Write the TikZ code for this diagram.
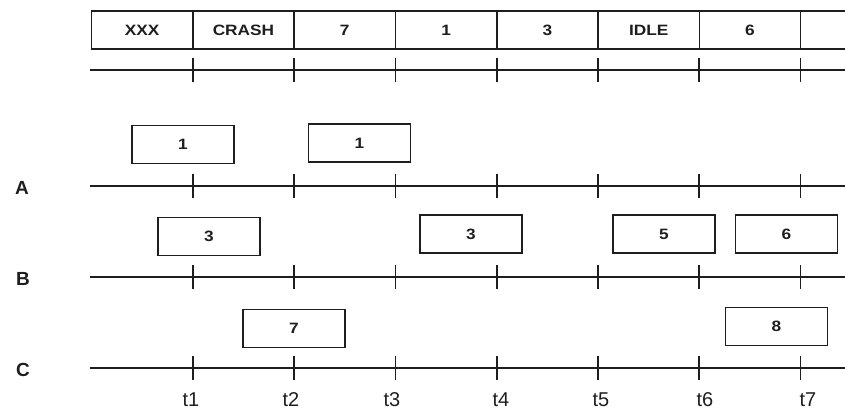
\documentclass[tikz,border=0pt]{standalone}
\usepackage{fontspec}
\setmainfont{Liberation Sans}
\newfontfamily\slotfont{Liberation Sans}[FakeStretch=1.15]
\usepackage{tikz}
\usetikzlibrary{positioning, calc}
\definecolor{inkgray}{RGB}{30, 30, 30}
\tikzset{
    slot/.style={
        rectangle,
        draw=inkgray,
        line width=1.6pt,
        minimum width=101.3pt,
        minimum height=38pt,
        inner sep=0pt,
        text=inkgray,
        font=\slotfont\bfseries\fontsize{15}{17}\selectfont
    },
    job/.style={
        slot,
        minimum width=102pt
    },
    axis/.style={
        draw=inkgray,
        line width=1.7pt
    },
    tickmark/.style={
        draw=inkgray,
        line width=1.7pt
    },
    rowlabel/.style={
        text=inkgray,
        font=\bfseries\fontsize{19}{22}\selectfont
    },
    timelabel/.style={
        text=inkgray,
        font=\fontsize{20}{24}\selectfont
    }
}

\begin{document}
\begin{tikzpicture}[x=1pt, y=-1pt]
    \useasboundingbox (0,0) rectangle (845,412);
    \clip (0,0) rectangle (845,412);

    % execution strip
    \foreach \lab [count=\i] in {XXX,CRASH,7,1,3,IDLE,6,{}}
        \node[slot] (s\i) at ({91.5+101.3*(\i-1)+50.65},30) {\lab};

    % time axes with ticks
    \foreach \row/\y in {top/70, A/186, B/277, C/368} {
        \coordinate (\row-start) at (90,\y);
        \coordinate (\row-end) at (860,\y);
        \draw[axis] (\row-start) -- (\row-end);
        \foreach \k in {1,...,7} {
            \coordinate (\row-t\k) at ({91.5+101.3*\k},\y);
            \draw[tickmark] ([yshift=12pt]\row-t\k) -- ([yshift=-12pt]\row-t\k);
        }
    }

    % processor names
    \node[rowlabel] (labA) at (22,188) {A};
    \node[rowlabel] (labB) at (23,279) {B};
    \node[rowlabel] (labC) at (23,370) {C};

    % requests on A
    \node[job] (a1) at (183,144.5) {1};
    \node[job] (a2) at (359.5,143) {1};

    % requests on B
    \node[job] (b1) at (209,236.5) {3};
    \node[job] (b2) at (471,234) {3};
    \node[job] (b3) at (664,234) {5};
    \node[job] (b4) at (786.5,234) {6};

    % requests on C
    \node[job] (c1) at (294,328.5) {7};
    \node[job] (c2) at (776.5,326.5) {8};

    % instants
    \foreach \k/\xpos in {1/191, 2/291, 3/392, 4/501, 5/601, 6/705, 7/808}
        \node[timelabel] (t\k) at (\xpos,400) {t\k};
\end{tikzpicture}
\end{document}
